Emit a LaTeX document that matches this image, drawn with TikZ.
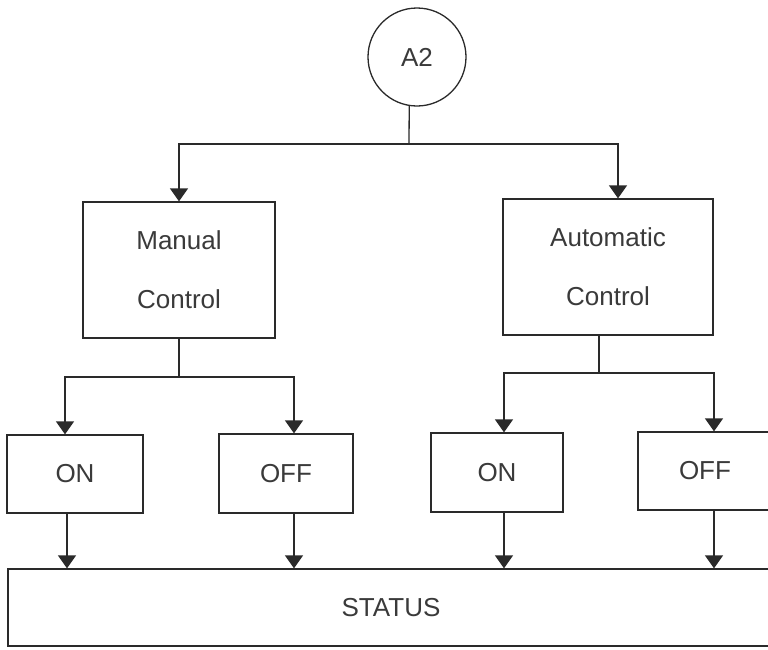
\documentclass[tikz,border=0pt]{standalone}
\usepackage{fontspec}
\setmainfont{Liberation Sans}
\usetikzlibrary{arrows.meta}
\definecolor{ink}{HTML}{2A2A2A}
\definecolor{txt}{HTML}{3A3A3A}
\begin{document}
\begin{tikzpicture}[x=1pt,y=-1pt,
  line width=1.3pt,
  every node/.style={text=txt},
  boxnode/.style={draw=ink,rectangle,inner sep=0pt,align=center,
    font=\fontsize{26}{59}\selectfont},
  arr/.style={draw=ink,-{Triangle[length=13pt,width=18pt]}},
  conn/.style={draw=ink}]
\useasboundingbox (0,0) rectangle (768,649);
\begin{scope}
\clip (0,0) rectangle (768,649);
\node[draw=ink,circle,minimum size=98pt,inner sep=0pt,font=\fontsize{26}{30}\selectfont] (c) at (417,57) {A2};
\node[boxnode,minimum width=192pt,minimum height=136pt] (man) at (179,270) {Manual\\Control};
\node[boxnode,minimum width=210pt,minimum height=136pt] (auto) at (608,267) {Automatic\\Control};
\node[boxnode,minimum width=136pt,minimum height=78pt] (on1) at (75,474) {ON};
\node[boxnode,minimum width=134pt,minimum height=79pt] (off1) at (286,473.5) {OFF};
\node[boxnode,minimum width=132pt,minimum height=79pt] (on2) at (497,472.5) {ON};
\node[boxnode,minimum width=134pt,minimum height=78pt] (off2) at (705,471) {OFF};
\node[boxnode,minimum width=764pt,minimum height=77pt] (st) at (390,607.5) {\hspace*{2pt}STATUS};

\coordinate (tM) at (409,144);
\draw[conn] (c.-99.4) -- (tM);
\draw[arr] (tM) -| (man.north);
\draw[arr] (tM) -| ([xshift=10pt]auto.north);

\coordinate (bL) at (179,377);
\draw[conn] (man.south) -- (bL);
\draw[arr] (bL) -| ([xshift=-10pt]on1.north);
\draw[arr] (bL) -| ([xshift=8pt]off1.north);

\coordinate (bR) at (599,373);
\draw[conn] ([xshift=-9pt]auto.south) -- (bR);
\draw[arr] (bR) -| ([xshift=7pt]on2.north);
\draw[arr] (bR) -| ([xshift=9pt]off2.north);

\draw[arr] ([xshift=-8pt]on1.south) -- ([xshift=-8pt]on1.south |- st.north);
\draw[arr] ([xshift=8pt]off1.south) -- ([xshift=8pt]off1.south |- st.north);
\draw[arr] ([xshift=7pt]on2.south) -- ([xshift=7pt]on2.south |- st.north);
\draw[arr] ([xshift=9pt]off2.south) -- ([xshift=9pt]off2.south |- st.north);
\end{scope}
\end{tikzpicture}
\end{document}
